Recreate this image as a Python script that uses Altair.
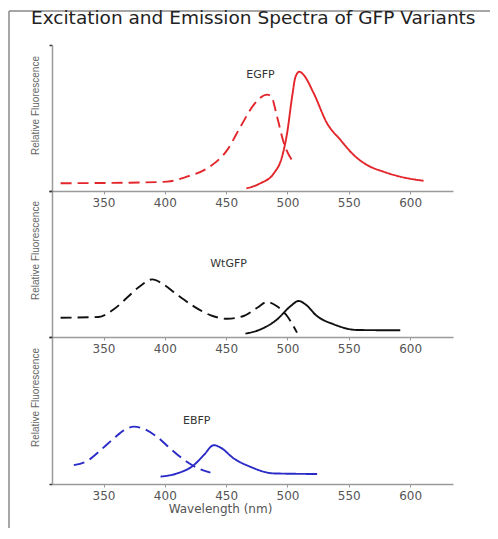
import altair as alt
import pandas as pd

# ---------------- data ----------------
ticks_nm = [350, 400, 450, 500, 550, 600]
chart_title = "Excitation and Emission Spectra of GFP Variants"

# EGFP (red)
egfp_ex_nm = [315, 350, 380, 402, 418, 434.5, 450.8, 461.7, 472.5, 483.4, 486.7, 491.5, 497, 504.6]
egfp_ex_y = [0.053, 0.055, 0.058, 0.064, 0.098, 0.155, 0.28, 0.44, 0.59, 0.66, 0.65, 0.51, 0.33, 0.20]
egfp_em_nm = [466.5, 478, 488.8, 495.6, 499.7, 503.8, 506.5, 509.7, 513.2, 521.4, 532.3, 543.2, 554, 564.9, 578.4, 592, 611]
egfp_em_y = [0.018, 0.053, 0.12, 0.235, 0.395, 0.646, 0.78, 0.817, 0.795, 0.67, 0.464, 0.35, 0.247, 0.178, 0.132, 0.098, 0.07]

# WtGFP (black)
wt_ex_nm = [315, 346, 358.4, 369.3, 380, 389.7, 399, 410, 423.6, 437, 450.8, 464.3, 475.3, 483.4, 491.5, 499.7, 507.8]
wt_ex_y = [0.132, 0.137, 0.19, 0.27, 0.35, 0.395, 0.36, 0.29, 0.21, 0.15, 0.125, 0.144, 0.2, 0.24, 0.21, 0.144, 0.03]
wt_em_nm = [465.7, 478, 491.5, 502.4, 509.2, 514.6, 524, 537.7, 556.8, 592]
wt_em_y = [0.023, 0.052, 0.12, 0.21, 0.247, 0.224, 0.144, 0.087, 0.048, 0.046]

# EBFP (blue)
ebfp_ex_nm = [325.8, 336.7, 347.6, 358.4, 366.5, 374.7, 382.8, 393.8, 404.6, 418.2, 429, 437.2]
ebfp_ex_y = [0.128, 0.157, 0.23, 0.31, 0.365, 0.39, 0.376, 0.32, 0.24, 0.15, 0.1, 0.077]
ebfp_em_nm = [396.5, 410, 423.6, 431.7, 440, 445.4, 456.2, 469.8, 488.8, 524.2]
ebfp_em_y = [0.05, 0.072, 0.128, 0.196, 0.264, 0.248, 0.174, 0.117, 0.072, 0.068]

names = ["EGFP", "WtGFP", "EBFP"]
label_nm = [478, 452, 426]
label_y = [0.795, 0.50, 0.43]
colors = ["#e3262b", "#111111", "#2b2bc8"]

# ---------------- layout ----------------
W, H = 401, 439
ranges = [[146, 0], [292, 146], [439, 292]]
x_offsets = [146 - H, 292 - H, 0]
title_y = [60, 205, 352]

GRAY = "#9a9a9a"


def panel(i, ex_nm, ex_y, em_nm, em_y):
    df = pd.DataFrame({
        "nm": list(ex_nm) + list(em_nm) + [label_nm[i]],
        "val": list(ex_y) + list(em_y) + [label_y[i]],
        "kind": ["ex"] * len(ex_nm) + ["em"] * len(em_nm) + ["label"],
        "label": [""] * (len(ex_nm) + len(em_nm)) + [names[i]],
    })
    last = i == 2
    xaxis = alt.Axis(
        orient="bottom", offset=x_offsets[i], values=ticks_nm, grid=False,
        title="Wavelength (nm)" if last else None,
        domainColor=GRAY, domainWidth=1.5, tickColor=GRAY, tickSize=3,
        labelFont="DejaVu Sans", labelFontSize=12, labelColor="#555",
        labelPadding=3,
        titleFont="DejaVu Sans", titleFontSize=12, titleFontWeight="normal",
        titleColor="#555", titleX=168, titlePadding=2,
    )
    yaxis = alt.Axis(
        orient="left", values=[0, 1], labels=False, grid=False,
        domainColor=GRAY, domainWidth=1.5, tickColor="#333", tickSize=3, tickWidth=1.5,
        title="Relative Fluorescence", titleFont="Liberation Sans", titleFontSize=10,
        titleFontWeight="normal", titleColor="#666", titleX=-17, titleY=title_y[i],
        titleBaseline="middle", titleAngle=-90,
    )
    base = alt.Chart(df).encode(
        x=alt.X("nm:Q", scale=alt.Scale(domain=[308, 635], nice=False, zero=False), axis=xaxis),
        y=alt.Y("val:Q", scale=alt.Scale(domain=[0, 1], range=ranges[i], nice=False, zero=False), axis=yaxis),
    )
    lines = base.transform_filter(alt.datum.kind != "label").mark_line(
        color=colors[i], strokeWidth=1.9, interpolate="monotone"
    ).encode(
        strokeDash=alt.StrokeDash(
            "kind:N",
            scale=alt.Scale(domain=["ex", "em"], range=[[11, 6], [1, 0]]),
            legend=None,
        )
    )
    text = base.transform_filter(alt.datum.kind == "label").mark_text(
        font="DejaVu Sans", fontSize=11, color="#333"
    ).encode(text="label:N")
    return alt.layer(lines, text)


p1 = panel(0, egfp_ex_nm, egfp_ex_y, egfp_em_nm, egfp_em_y)
p2 = panel(1, wt_ex_nm, wt_ex_y, wt_em_nm, wt_em_y)
p3 = panel(2, ebfp_ex_nm, ebfp_ex_y, ebfp_em_nm, ebfp_em_y)

one = pd.DataFrame({"t": [chart_title]})
frame_left = alt.Chart(one).mark_rule(color="#888", strokeWidth=1.5).encode(
    x=alt.value(-43), y=alt.value(-34), y2=alt.value(H + 60)
)
frame_top = alt.Chart(one).mark_rule(color="#888", strokeWidth=1.5).encode(
    x=alt.value(-43), x2=alt.value(W + 40), y=alt.value(-34), y2=alt.value(-34)
)
title_mark = alt.Chart(one).mark_text(
    font="DejaVu Sans", fontSize=18.5, color="#222", align="left", baseline="alphabetic"
).encode(x=alt.value(-21), y=alt.value(-21), text="t:N")

chart = alt.layer(p1, p2, p3, frame_left, frame_top, title_mark).resolve_scale(
    x="independent", y="independent", strokeDash="independent"
).properties(
    width=W,
    height=H,
    autosize=alt.AutoSizeParams(type="none"),
    padding={"left": 44, "top": 37, "right": 37, "bottom": 44},
).configure_view(stroke=None)

chart.save("out.html", embed_options={"renderer": "svg", "actions": False})
